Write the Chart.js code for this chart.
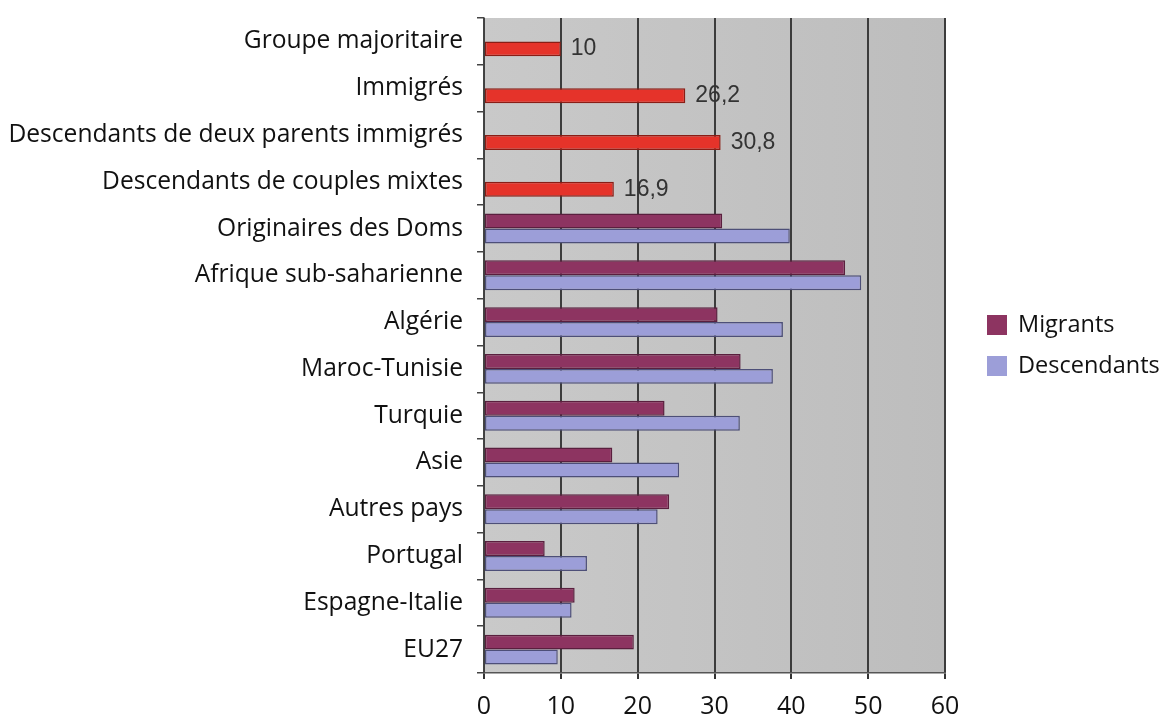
<!DOCTYPE html>
<html><head><meta charset="utf-8">
<script src="https://cdn.jsdelivr.net/npm/chart.js@4/dist/chart.umd.min.js"></script>
<style>html,body{margin:0;padding:0;background:#fff}#wrap{width:1168px;height:718px;position:relative}</style>
</head><body><div id="wrap"><canvas id="c" width="1168" height="718"></canvas></div>
<script>
const categories = ["Groupe majoritaire","Immigrés","Descendants de deux parents immigrés","Descendants de couples mixtes","Originaires des Doms","Afrique sub-saharienne","Algérie","Maroc-Tunisie","Turquie","Asie","Autres pays","Portugal","Espagne-Italie","EU27"];
const ensemble = [10, 26.2, 30.8, 16.9, null, null, null, null, null, null, null, null, null, null];
const migrants = [null, null, null, null, 31.0, 47.0, 30.4, 33.4, 23.5, 16.7, 24.1, 7.9, 11.8, 19.5];
const descendants = [null, null, null, null, 39.8, 49.1, 38.9, 37.6, 33.3, 25.4, 22.6, 13.4, 11.4, 9.6];
const xTicks = [0, 10, 20, 30, 40, 50, 60];

const FONT = "'Open Sans'";
const bgPlugin = {
  id: 'bg',
  beforeDraw(chart) {
    const {ctx, chartArea: a} = chart;
    const g = ctx.createLinearGradient(a.left, 0, a.right, 0);
    g.addColorStop(0, '#c9c9c9'); g.addColorStop(1, '#bdbdbd');
    ctx.save(); ctx.fillStyle = g; ctx.fillRect(a.left, a.top, a.right - a.left, a.bottom - a.top); ctx.restore();
  },
  afterDatasetsDraw(chart) {
    const {ctx} = chart;
    const meta = chart.getDatasetMeta(1);
    ctx.save();
    ctx.font = "23px 'Liberation Sans'";
    ctx.fillStyle = '#333';
    ctx.textBaseline = 'middle';
    meta.data.forEach((el, i) => {
      const v = ensemble[i];
      if (v == null) return;
      ctx.fillText(String(v).replace('.', ','), el.x + 10, el.y);
    });
    ctx.restore();
  },
  afterDraw(chart) {
    const {ctx} = chart;
    const items = [[0, 'Migrants', 325], [2, 'Descendants', 366]];
    ctx.save();
    ctx.font = "23.5px " + FONT;
    ctx.textBaseline = 'middle';
    items.forEach(([di, txt, y]) => {
      const ds = chart.data.datasets[di];
      ctx.fillStyle = ds.backgroundColor;
      ctx.fillRect(987, y - 10, 20, 20);
      ctx.fillStyle = '#111';
      ctx.fillText(txt, 1018, y);
    });
    ctx.restore();
  }
};

new Chart(document.getElementById('c'), {
  type: 'bar',
  data: {
    labels: categories,
    datasets: [
      {label: 'Migrants', data: migrants, stack: 'a', backgroundColor: '#8d3461', borderColor: '#5a1f3e', borderWidth: 1.5, borderSkipped: false},
      {label: 'Ensemble', data: ensemble, stack: 'b', backgroundColor: '#e5332a', borderColor: '#8a1d15', borderWidth: 1.5, borderSkipped: false},
      {label: 'Descendants', data: descendants, stack: 'b', backgroundColor: '#9c9ed8', borderColor: '#4d4f78', borderWidth: 1.5, borderSkipped: false}
    ]
  },
  options: {
    indexAxis: 'y',
    responsive: false,
    animation: false,
    categoryPercentage: 0.64,
    barPercentage: 1.0,
    layout: {padding: {left: 0, right: 223, top: 18, bottom: 0}},
    plugins: {legend: {display: false}, tooltip: {enabled: false}},
    scales: {
      x: {
        min: 0, max: 60, stacked: true,
        afterFit(s) { s.height = 45; },
        afterBuildTicks(s) { s.ticks = xTicks.map(v => ({value: v})); },
        grid: {color: '#3c3c3c', lineWidth: 2, tickLength: 6, tickColor: '#333', drawTicks: true},
        border: {display: true, color: '#555', width: 1.5},
        ticks: {font: {family: "Open Sans", size: 25}, color: '#111', padding: 13}
      },
      y: {
        afterFit(s) { s.width = 484; s.paddingTop = 0; s.paddingBottom = 0; },
        grid: {drawOnChartArea: false, offset: true, tickLength: 7, color: '#444', lineWidth: 1.5},
        border: {display: true, color: '#444', width: 1.5},
        ticks: {font: {family: "Open Sans", size: 24.6}, color: '#111', padding: 14, autoSkip: false}
      }
    }
  },
  plugins: [bgPlugin]
});
</script></body></html>
